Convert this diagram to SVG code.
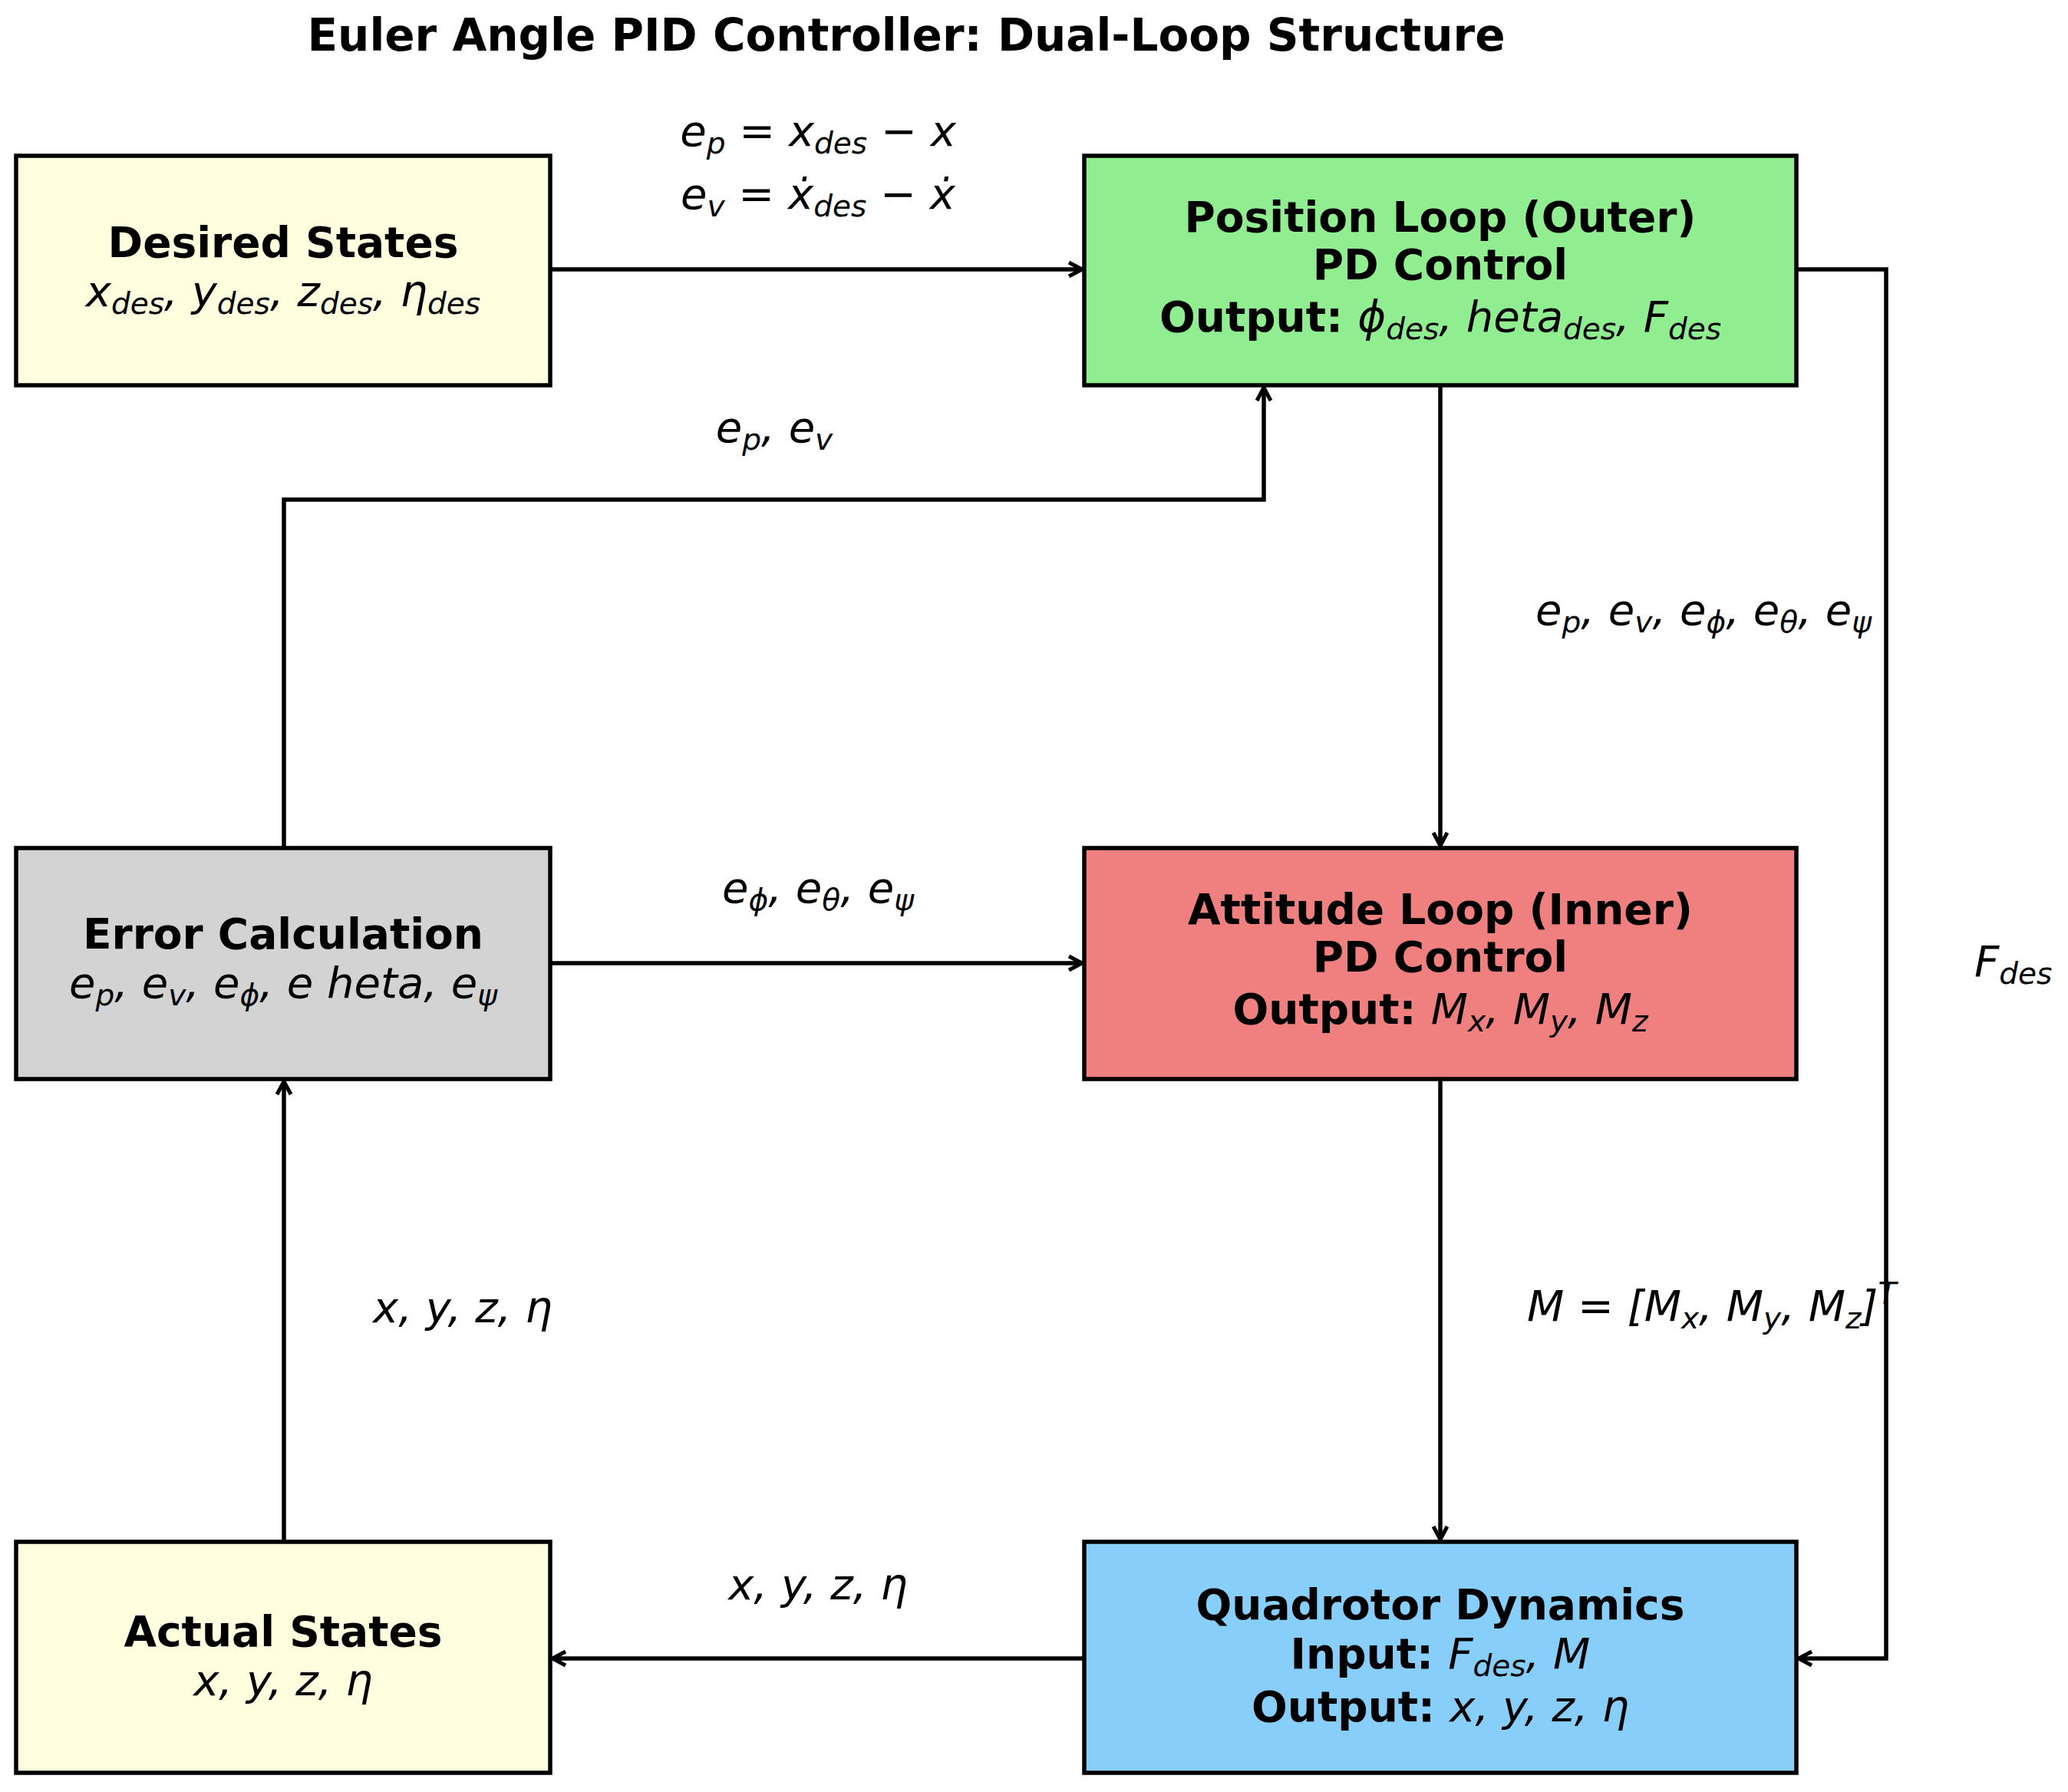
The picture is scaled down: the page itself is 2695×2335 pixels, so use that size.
<svg xmlns="http://www.w3.org/2000/svg" width="2695" height="2335" viewBox="0 0 2695 2335">
<style>
text{font-family:"DejaVu Sans",sans-serif;text-anchor:middle;fill:#000}
.t{font-size:58px;font-weight:bold}
.b{font-size:55px;font-weight:bold}
.m{font-size:56px;font-style:italic}
.s{font-size:39px}
.box{stroke:#000;stroke-width:5.5}
.c{fill:none;stroke:#000;stroke-width:5.5;marker-end:url(#a)}
</style>
<defs><marker id="a" markerWidth="24" markerHeight="24" refX="21" refY="12" orient="auto" markerUnits="userSpaceOnUse" viewBox="0 0 24 24"><path d="M4,3 L21,12 L4,21" fill="none" stroke="#000" stroke-width="5"/></marker></defs>
<rect width="2695" height="2335" fill="#fff"/>
<text class="t" x="1181" y="66">Euler Angle PID Controller: Dual-Loop Structure</text>
<g id="connectors">
<line class="c" x1="717" y1="351" x2="1410" y2="351"/>
<line class="c" x1="717" y1="1255" x2="1410" y2="1255"/>
<line class="c" x1="1413" y1="2161" x2="720" y2="2161"/>
<line class="c" x1="370" y1="2009" x2="370" y2="1409"/>
<polyline class="c" points="370,1105 370,651 1647,651 1647,505"/>
<line class="c" x1="1877" y1="502" x2="1877" y2="1102"/>
<line class="c" x1="1877" y1="1406" x2="1877" y2="2006"/>
<polyline class="c" points="2341,351 2458,351 2458,2161 2344,2161"/>
</g>
<g id="desired"><rect class="box" x="21" y="203" width="696" height="299" fill="#FFFFE0"/>
<text class="b" x="369" y="335">Desired States</text>
<text class="m" x="369" y="399">x<tspan class="s" dy="10">des</tspan><tspan dy="-10">, y</tspan><tspan class="s" dy="10">des</tspan><tspan dy="-10">, z</tspan><tspan class="s" dy="10">des</tspan><tspan dy="-10">, η</tspan><tspan class="s" dy="10">des</tspan></text></g>
<g id="position"><rect class="box" x="1413" y="203" width="928" height="299" fill="#90EE90"/>
<text class="b" x="1877" y="302">Position Loop (Outer)</text>
<text class="b" x="1877" y="364">PD Control</text>
<text x="1877" y="432"><tspan class="b">Output: </tspan><tspan class="m">ϕ</tspan><tspan class="m s" dy="10">des</tspan><tspan class="m" dy="-10">, heta</tspan><tspan class="m s" dy="10">des</tspan><tspan class="m" dy="-10">, F</tspan><tspan class="m s" dy="10">des</tspan></text></g>
<g id="error"><rect class="box" x="21" y="1105" width="696" height="301" fill="#D3D3D3"/>
<text class="b" x="369" y="1236">Error Calculation</text>
<text class="m" x="369" y="1300">e<tspan class="s" dy="10">p</tspan><tspan dy="-10">, e</tspan><tspan class="s" dy="10">v</tspan><tspan dy="-10">, e</tspan><tspan class="s" dy="10">ϕ</tspan><tspan dy="-10">, e heta, e</tspan><tspan class="s" dy="10">ψ</tspan></text></g>
<g id="attitude"><rect class="box" x="1413" y="1105" width="928" height="301" fill="#F08080"/>
<text class="b" x="1877" y="1204">Attitude Loop (Inner)</text>
<text class="b" x="1877" y="1266">PD Control</text>
<text x="1877" y="1334"><tspan class="b">Output: </tspan><tspan class="m">M</tspan><tspan class="m s" dy="10">x</tspan><tspan class="m" dy="-10">, M</tspan><tspan class="m s" dy="10">y</tspan><tspan class="m" dy="-10">, M</tspan><tspan class="m s" dy="10">z</tspan></text></g>
<g id="actual"><rect class="box" x="21" y="2009" width="696" height="301" fill="#FFFFE0"/>
<text class="b" x="369" y="2145">Actual States</text>
<text class="m" x="369" y="2209">x, y, z, η</text></g>
<g id="quad"><rect class="box" x="1413" y="2009" width="928" height="301" fill="#87CEFA"/>
<text class="b" x="1877" y="2110">Quadrotor Dynamics</text>
<text x="1877" y="2174"><tspan class="b">Input: </tspan><tspan class="m">F</tspan><tspan class="m s" dy="10">des</tspan><tspan class="m" dy="-10">, M</tspan></text>
<text x="1877" y="2243"><tspan class="b">Output: </tspan><tspan class="m">x, y, z, η</tspan></text></g>
<g id="labels">
<text class="m" x="1066" y="190">e<tspan class="s" dy="10">p</tspan><tspan dy="-10"> = x</tspan><tspan class="s" dy="10">des</tspan><tspan dy="-10"> − x</tspan></text>
<text class="m" x="1066" y="272">e<tspan class="s" dy="10">v</tspan><tspan dy="-10"> = ẋ</tspan><tspan class="s" dy="10">des</tspan><tspan dy="-10"> − ẋ</tspan></text>
<text class="m" x="1009" y="576">e<tspan class="s" dy="10">p</tspan><tspan dy="-10">, e</tspan><tspan class="s" dy="10">v</tspan></text>
<text class="m" x="2220" y="814">e<tspan class="s" dy="10">p</tspan><tspan dy="-10">, e</tspan><tspan class="s" dy="10">v</tspan><tspan dy="-10">, e</tspan><tspan class="s" dy="10">ϕ</tspan><tspan dy="-10">, e</tspan><tspan class="s" dy="10">θ</tspan><tspan dy="-10">, e</tspan><tspan class="s" dy="10">ψ</tspan></text>
<text class="m" x="1066" y="1176">e<tspan class="s" dy="10">ϕ</tspan><tspan dy="-10">, e</tspan><tspan class="s" dy="10">θ</tspan><tspan dy="-10">, e</tspan><tspan class="s" dy="10">ψ</tspan></text>
<text class="m" x="2573" y="1272" style="text-anchor:start">F<tspan class="s" dy="10">des</tspan></text>
<text class="m" x="1990" y="1721" style="text-anchor:start">M = [M<tspan class="s" dy="10">x</tspan><tspan dy="-10">, M</tspan><tspan class="s" dy="10">y</tspan><tspan dy="-10">, M</tspan><tspan class="s" dy="10">z</tspan><tspan dy="-10">]</tspan><tspan class="s" dy="-22">T</tspan></text>
<text class="m" x="486" y="1723" style="text-anchor:start">x, y, z, η</text>
<text class="m" x="1066" y="2084">x, y, z, η</text>
</g>
</svg>
